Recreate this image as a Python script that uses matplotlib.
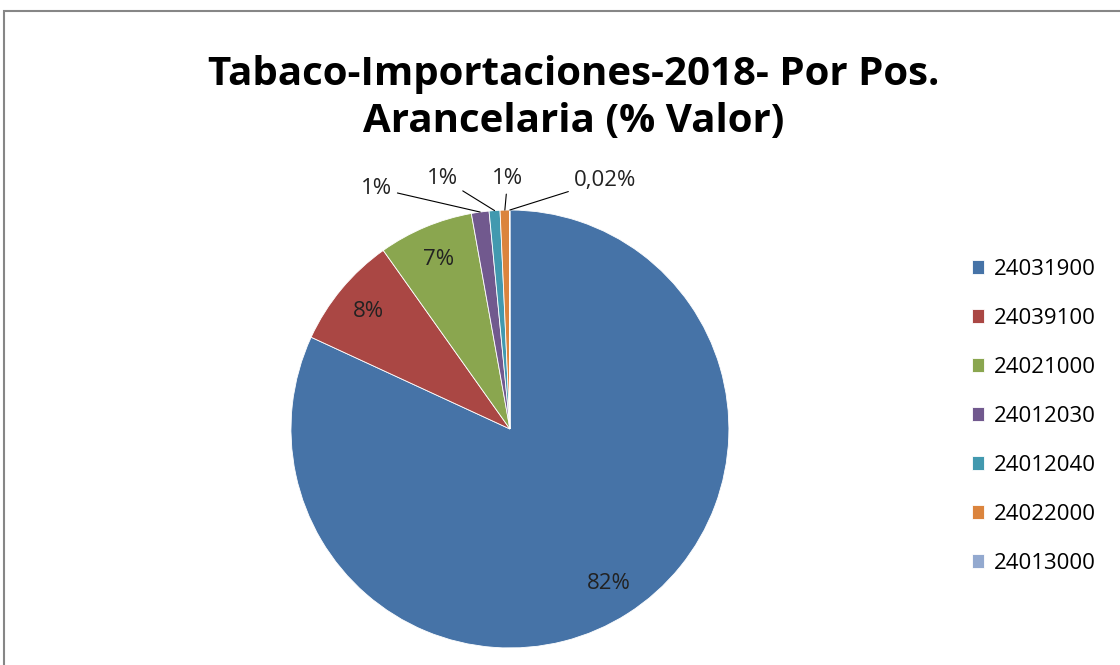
import matplotlib
matplotlib.use("Agg")
import matplotlib.pyplot as plt
import numpy as np
from matplotlib.patches import Rectangle

categories = ["24031900", "24039100", "24021000", "24012030", "24012040", "24022000", "24013000"]
values = [81.9, 8.3, 7.0, 1.3, 0.8, 0.7, 0.02]
labels = ["82%", "8%", "7%", "1%", "1%", "1%", "0,02%"]
colors = ["#4673A7", "#AA4744", "#8AA64F", "#71598E", "#4299AF", "#DB843D", "#93A9CF"]
title = "Tabaco-Importaciones-2018- Por Pos.\nArancelaria (% Valor)"

FONT = ["Open Sans", "DejaVu Sans"]
plt.rcParams["font.family"] = FONT

fig = plt.figure(figsize=(11.2, 6.65), dpi=100)
fig.patch.set_facecolor("white")

# outer chart border (partially cropped like the reference)
fig.patches.append(Rectangle((4 / 1120, -0.2), 1.2, (665 - 11) / 665 + 0.2,
                             transform=fig.transFigure, fill=False,
                             edgecolor="#868686", linewidth=1.5, clip_on=False))

ax = fig.add_axes([0.2598, 0.0256, 0.391, 0.6586])
wedges, _ = ax.pie(values, colors=colors, startangle=90, counterclock=False,
                   radius=1.0, wedgeprops=dict(edgecolor="white", linewidth=0.6))
ax.set_xlim(-1, 1)
ax.set_ylim(-1, 1)
ax.set_aspect("equal")
ax.axis("off")

total = sum(values)
mids = []
cum = 0
for v in values:
    a0 = 90 - cum / total * 360
    a1 = 90 - (cum + v) / total * 360
    mids.append(np.deg2rad((a0 + a1) / 2))
    cum += v

# inner labels
for i in range(3):
    r = 0.84
    ax.text(r * np.cos(mids[i]), r * np.sin(mids[i]), labels[i], ha="center", va="center",
            fontsize=16, color="#222222")

# outer labels with leader lines
outer_pos = {3: (-0.61, 1.10), 4: (-0.31, 1.146), 5: (-0.01, 1.146), 6: (0.434, 1.137)}
for i, (tx, ty) in outer_pos.items():
    ex, ey = np.cos(mids[i]), np.sin(mids[i])
    ax.annotate(labels[i], xy=(ex, ey), xytext=(tx, ty), ha="center", va="center",
                fontsize=16, color="#222222", annotation_clip=False,
                arrowprops=dict(arrowstyle="-", color="black", lw=0.8,
                                shrinkA=2, shrinkB=0))

fig.text(0.5125, 1 - 98 / 665, title, ha="center", va="center", fontsize=29,
         fontweight="bold", linespacing=1.3, color="black")

leg = fig.legend(wedges, categories, loc="upper left",
                 bbox_to_anchor=(972 / 1120, 1 - 259 / 665), frameon=False,
                 fontsize=16, handlelength=0.55, handleheight=0.55,
                 handletextpad=0.45, labelspacing=1.26, borderpad=0,
                 borderaxespad=0)

fig.savefig("out.png", dpi=100, facecolor="white")
